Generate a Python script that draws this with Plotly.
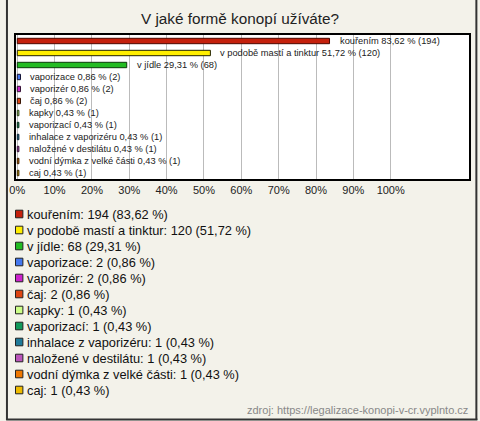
import plotly.graph_objects as go

categories = ["kouřením", "v podobě mastí a tinktur", "v jídle", "vaporizace", "vaporizér",
              "čaj", "kapky", "vaporizací", "inhalace z vaporizéru", "naložené v destilátu",
              "vodní dýmka z velké části", "caj"]
counts = [194, 120, 68, 2, 2, 2, 1, 1, 1, 1, 1, 1]
percents = [83.62, 51.72, 29.31, 0.86, 0.86, 0.86, 0.43, 0.43, 0.43, 0.43, 0.43, 0.43]
pct_labels = ["83,62", "51,72", "29,31", "0,86", "0,86", "0,86", "0,43", "0,43", "0,43", "0,43", "0,43", "0,43"]
colors = ["#c4200c", "#ffee00", "#22bb22", "#4477ee", "#cc22cc", "#dd4411",
          "#ccff88", "#11995a", "#1f7a99", "#bb55bb", "#ee7700", "#eebb00"]
line_colors = ["#4a0800", "#222200", "#0a3a0a", "#111133", "#331133", "#331100",
               "#223311", "#0a2a1a", "#0a2233", "#331133", "#331a00", "#332200"]
tick_vals = [0, 10, 20, 30, 40, 50, 60, 70, 80, 90, 100]
tick_text = ["0%", "10%", "20%", "30%", "40%", "50%", "60%", "70%", "80%", "90%", "100%"]
title = "V jaké formě konopí užíváte?"
source = "zdroj: https://legalizace-konopi-v-cr.vyplnto.cz"

W, H = 480, 421
L, R, T, B = 10, 9, 35, 242
PW, PH = W - L - R, H - T - B

def px(x):
    return (x - L) / PW

def py(y):
    return 1 - (y - T) / PH

fig = go.Figure()
fig.add_trace(go.Bar(
    x=percents, y=categories, orientation="h",
    marker=dict(color=colors, line=dict(color=line_colors, width=1)),
    width=0.45, showlegend=False, hoverinfo="skip"))

annotations = []
for c, p, pl, n in zip(categories, percents, pct_labels, counts):
    annotations.append(dict(x=p, y=c, xref="x", yref="y", text=f"{c} {pl} % ({n})",
                            showarrow=False, xanchor="left", yanchor="middle", xshift=8,
                            font=dict(size=9.3, color="#222222", family="Arial, Liberation Sans")))

shapes = []
for i, (c, pl, n, col) in enumerate(zip(categories, pct_labels, counts, colors)):
    yc = 214 + 16 * i
    shapes.append(dict(type="rect", xref="paper", yref="paper",
                       x0=px(9.5), x1=px(17), y0=py(yc - 3.8), y1=py(yc + 3.8),
                       fillcolor=col, line=dict(color="#222222", width=1)))
    annotations.append(dict(x=px(19.5), y=py(yc), xref="paper", yref="paper",
                            text=f"{c}: {n} ({pl} %)", showarrow=False,
                            xanchor="left", yanchor="middle",
                            font=dict(size=12.8, color="#111111", family="Arial, Liberation Sans")))

annotations.append(dict(x=px(472), y=py(410), xref="paper", yref="paper", text=source,
                        showarrow=False, xanchor="right", yanchor="middle",
                        font=dict(size=11, color="#888888", family="Arial, Liberation Sans")))

# outer frame (left, right, bottom)
for (x0, y0, x1, y1) in [(0.8, 0, 0.8, 420), (478.5, 0, 478.5, 420), (0, 419.5, 479.5, 419.5)]:
    shapes.append(dict(type="line", xref="paper", yref="paper",
                       x0=px(x0), x1=px(x1), y0=py(y0), y1=py(y1),
                       line=dict(color="#333333", width=2)))

fig.update_layout(
    width=W, height=H,
    margin=dict(l=L, r=R, t=T, b=B, pad=0),
    paper_bgcolor="#f3f2ea", plot_bgcolor="#ffffff",
    title=dict(text=title, x=0.5, xanchor="center", y=1 - 19 / H, yanchor="middle",
               font=dict(size=15.3, color="#222222", family="Arial, Liberation Sans")),
    xaxis=dict(range=[-0.34, 120.97], tickvals=tick_vals, ticktext=tick_text,
               showgrid=True, gridcolor="#bbbbbb", gridwidth=1, zeroline=False,
               showline=True, mirror=True, linecolor="#000000", linewidth=2,
               ticks="", tickfont=dict(size=11, color="#222222", family="Arial, Liberation Sans"),
               fixedrange=True),
    yaxis=dict(range=[11.5, -0.5], showticklabels=False, showgrid=False, zeroline=False,
               showline=True, mirror=True, linecolor="#000000", linewidth=2, ticks="",
               fixedrange=True),
    bargap=0.5,
    annotations=annotations, shapes=shapes,
    showlegend=False,
)

fig.write_html("out.html", config={"displayModeBar": False},
               post_script="document.body.style.margin='0';document.body.style.padding='0';"
                           "document.documentElement.style.overflow='hidden';")
